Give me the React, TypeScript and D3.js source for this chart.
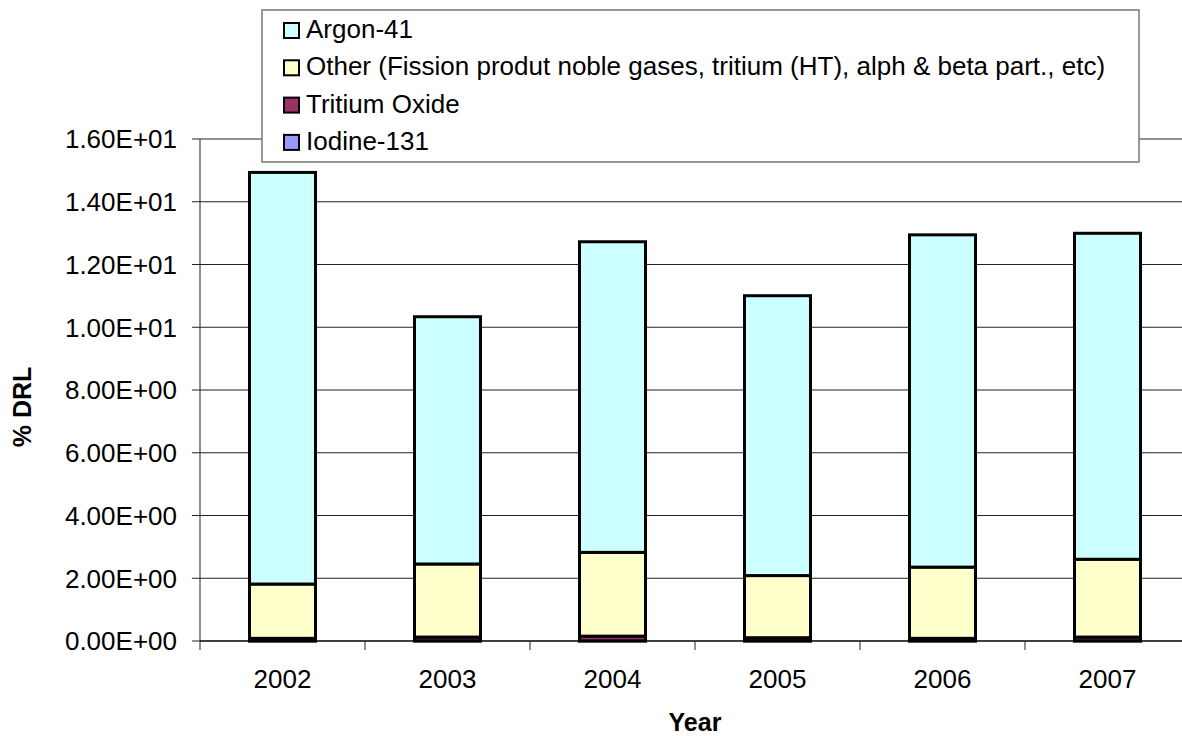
import React from "react";
import * as d3 from "d3";

const years = ["2002", "2003", "2004", "2005", "2006", "2007"];
const iodine131 = [0.005, 0.005, 0.005, 0.005, 0.005, 0.005];
const tritiumOxide = [0.08, 0.12, 0.15, 0.1, 0.08, 0.12];
const other = [1.73, 2.33, 2.67, 1.98, 2.27, 2.48];
const argon41 = [13.12, 7.88, 9.9, 8.92, 10.59, 10.39];
const yTicks = [0, 2, 4, 6, 8, 10, 12, 14, 16];

const seriesKeys = ["iodine", "tritium", "other", "argon"];
const seriesColors: Record<string, string> = {
  iodine: "#9999FF",
  tritium: "#993366",
  other: "#FFFFCC",
  argon: "#CCFFFF",
};
const legendItems = [
  { key: "argon", label: "Argon-41" },
  { key: "other", label: "Other (Fission produt noble gases, tritium (HT), alph & beta part., etc)" },
  { key: "tritium", label: "Tritium Oxide" },
  { key: "iodine", label: "Iodine-131" },
];

const W = 1182;
const H = 736;
const left = 200;
const right = 1190;
const top = 139;
const bottom = 641;
const FONT = "'Liberation Sans', Arial, Helvetica, sans-serif";

export default function App() {
  const rows = years.map((y, i) => ({
    year: y,
    iodine: iodine131[i],
    tritium: tritiumOxide[i],
    other: other[i],
    argon: argon41[i],
  }));
  const stacked = d3.stack<any>().keys(seriesKeys)(rows);
  const x = d3.scaleBand<string>().domain(years).range([left, right]).padding(0);
  const y = d3.scaleLinear().domain([0, 16]).range([bottom, top]);
  const bw = x.bandwidth() * 0.4;
  const fmt = (v: number) => v.toExponential(2).replace("e", "E").replace(/E([+-])(\d)$/, "E$10$2");

  return (
    <svg width={W} height={H} style={{ position: "absolute", left: 0, top: 0, background: "#fff" }} fontFamily={FONT}>
      <rect x={0} y={0} width={W} height={H} fill="#fff" />
      {yTicks.map((t) => (
        <g key={t}>
          {t > 0 && <line x1={left} x2={right} y1={y(t)} y2={y(t)} stroke="#222" strokeWidth={1} />}
          <line x1={left - 8} x2={left} y1={y(t)} y2={y(t)} stroke="#222" strokeWidth={1} />
          <text x={177} y={y(t)} dy="0.36em" textAnchor="end" fontSize={26} fill="#000">
            {fmt(t)}
          </text>
        </g>
      ))}
      {stacked.map((s) => (
        <g key={s.key}>
          {s.map((d, i) => {
            const bx = (x(years[i]) as number) + (x.bandwidth() - bw) / 2;
            return (
              <rect
                key={i}
                x={bx}
                y={y(d[1])}
                width={bw}
                height={Math.max(0, y(d[0]) - y(d[1]))}
                fill={seriesColors[s.key]}
                stroke="#000"
                strokeWidth={3}
              />
            );
          })}
        </g>
      ))}
      <line x1={left} x2={left} y1={top} y2={bottom} stroke="#222" strokeWidth={1} />
      <line x1={left} x2={right} y1={bottom} y2={bottom} stroke="#000" strokeWidth={1.5} />
      {years.map((yr) => (
        <line key={"t" + yr} x1={x(yr) as number} x2={x(yr) as number} y1={bottom} y2={bottom + 9} stroke="#222" strokeWidth={1} />
      ))}
      {years.map((yr) => (
        <text key={"l" + yr} x={(x(yr) as number) + x.bandwidth() / 2} y={688} textAnchor="middle" fontSize={26} fill="#000">
          {yr}
        </text>
      ))}
      <text x={695} y={731} textAnchor="middle" fontSize={25} fontWeight="bold" fill="#000">
        Year
      </text>
      <text transform="translate(31,407) rotate(-90)" textAnchor="middle" fontSize={25} fontWeight="bold" fill="#000">
        % DRL
      </text>
      <rect x={262} y={10} width={877} height={152} fill="#fff" stroke="#777" strokeWidth={1.5} />
      {legendItems.map((it, i) => {
        const base = 38 + i * 37.3;
        return (
          <g key={it.key}>
            <rect x={284} y={base - 15} width={15} height={15} fill={seriesColors[it.key]} stroke="#000" strokeWidth={2} />
            <text x={306} y={base} fontSize={26} fill="#000">
              {it.label}
            </text>
          </g>
        );
      })}
    </svg>
  );
}
